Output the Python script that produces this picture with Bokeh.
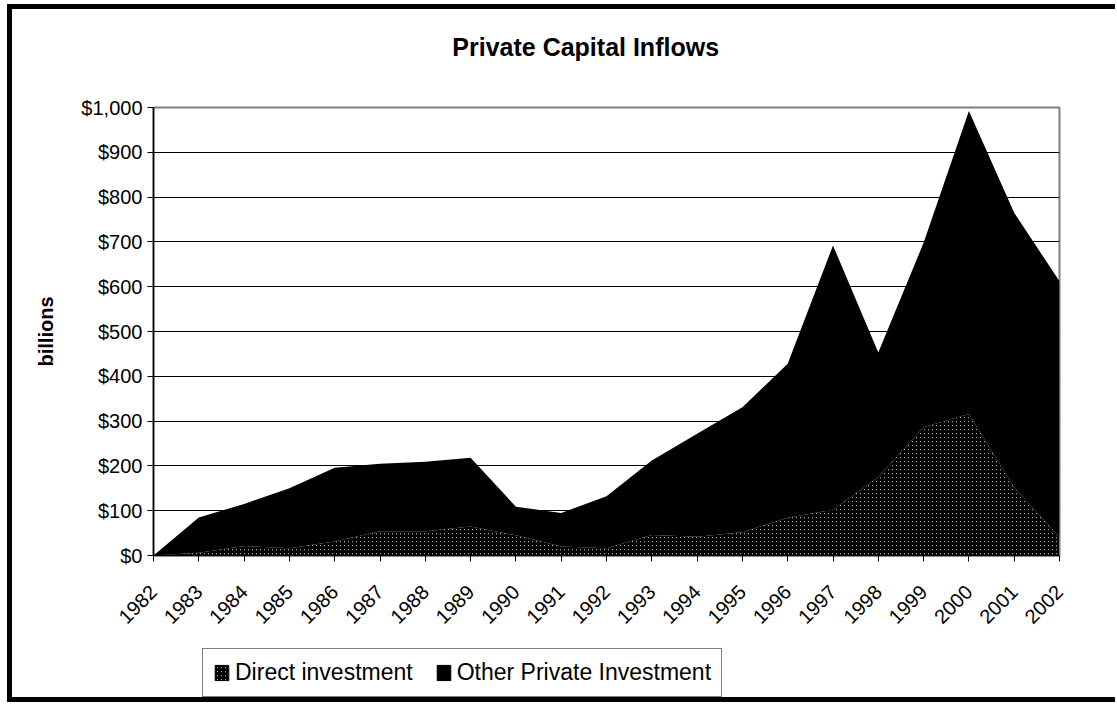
from bokeh.plotting import figure
from bokeh.layouts import column
from bokeh.models import (ColumnDataSource, Range1d, FixedTicker, Label,
                          NumeralTickFormatter, Legend, LegendItem)
from bokeh.embed import file_html
from bokeh.resources import INLINE
import math

title_text = "Private Capital Inflows"
years = list(range(1982, 2003))
direct = [0, 6, 21, 16, 31, 54, 54, 65, 45, 20, 16, 46, 42, 52, 84, 102, 175, 286, 316, 152, 41]
other = [0, 79, 94, 134, 165, 151, 155, 153, 64, 75, 116, 166, 230, 279, 344, 590, 278, 412, 676, 613, 571]
series_names = ["Direct investment", "Other Private Investment"]
y_ticks = list(range(0, 1001, 100))

src = ColumnDataSource(dict(year=years, direct=direct, other=other))

FONT = "Liberation Sans"
HATCH = dict(hatch_pattern="/", hatch_color="black", hatch_scale=4, hatch_weight=2.4)
W = 1103

# ---- title strip ----
t = figure(width=W, height=60, output_backend="svg", toolbar_location=None,
           x_range=Range1d(0, 1), y_range=Range1d(0, 1),
           x_axis_type=None, y_axis_type=None, min_border=0,
           background_fill_color="white", border_fill_color="white")
t.outline_line_color = None
t.grid.visible = False
t.add_layout(Label(x=0.477, y=0.367, text=title_text, text_align="center",
                   text_baseline="middle", text_font=FONT, text_font_size="25px",
                   text_font_style="bold", text_color="black"))

# ---- main chart ----
p = figure(width=W, height=574, output_backend="svg", toolbar_location=None,
           x_range=Range1d(1982, 2002), y_range=Range1d(0, 1000),
           min_border_left=141, min_border_right=56, min_border_top=38, min_border_bottom=88,
           background_fill_color="white", border_fill_color="white")

p.varea_stack(["direct", "other"], x="year", source=src,
              fill_color=["white", "black"],
              hatch_pattern=["/", " "], hatch_color=["black", "black"],
              hatch_scale=[4, 4], hatch_weight=[2.4, 2.4])

p.outline_line_color = "#808080"
p.outline_line_width = 2

p.xgrid.visible = False
p.ygrid.grid_line_color = "black"
p.ygrid.grid_line_width = 1

p.xaxis.ticker = FixedTicker(ticks=years)
p.xaxis.major_label_orientation = math.pi / 4
p.xaxis.major_label_standoff = 27
p.yaxis.ticker = FixedTicker(ticks=y_ticks)
p.yaxis.formatter = NumeralTickFormatter(format="$0,0")
p.yaxis.axis_label = "billions"
p.yaxis.axis_label_text_font = FONT
p.yaxis.axis_label_text_font_size = "20px"
p.yaxis.axis_label_text_font_style = "bold"
p.yaxis.axis_label_text_color = "black"
p.yaxis.axis_label_standoff = 21

for ax in (p.xaxis, p.yaxis):
    ax.axis_line_color = "black"
    ax.axis_line_width = 1.5
    ax.major_tick_line_color = "black"
    ax.major_tick_out = 6
    ax.major_tick_in = 0
    ax.minor_tick_line_color = None
    ax.major_label_text_font = FONT
    ax.major_label_text_font_size = "20px"
    ax.major_label_text_color = "black"

# ---- legend strip ----
q = figure(width=W, height=54, output_backend="svg", toolbar_location=None,
           x_range=Range1d(0, 1), y_range=Range1d(0, 1),
           x_axis_type=None, y_axis_type=None, min_border=0,
           background_fill_color="white", border_fill_color="white")
q.outline_line_color = None
q.grid.visible = False
# legend-only renderers: their data lie outside this strip's ranges, so only the legend shows them
e1 = q.quad(left="year", right="year", bottom="direct", top="direct", source=src,
            fill_color="white", line_color="black", **HATCH)
e2 = q.quad(left="year", right="year", bottom="other", top="other", source=src,
            fill_color="black", line_color="black")

legend = Legend(items=[LegendItem(label=series_names[0], renderers=[e1]),
                       LegendItem(label=series_names[1], renderers=[e2])],
                location=(49, 0), orientation="horizontal",
                label_text_font=FONT, label_text_font_size="23px",
                label_text_color="black",
                glyph_width=17, glyph_height=19, label_standoff=5, spacing=22,
                padding=10, margin=0,
                border_line_color="black", border_line_width=1,
                background_fill_color="white", background_fill_alpha=1)
q.add_layout(legend, "center")

layout = column(t, p, q, spacing=0,
                styles={"border-left": "5px solid black", "border-top": "5px solid black",
                        "border-bottom": "5px solid black", "margin-left": "7px",
                        "margin-top": "4px", "background-color": "white"})

open("out.html", "w").write(file_html(layout, INLINE))
